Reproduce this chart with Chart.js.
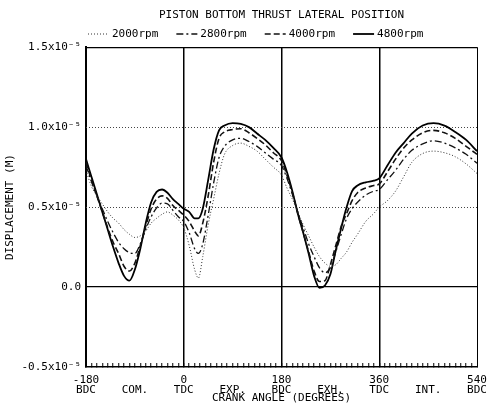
<!DOCTYPE html>
<html lang="en">
<head>
    <meta charset="UTF-8">
    <title>Piston bottom thrust lateral position</title>
    <script src="https://cdn.jsdelivr.net/npm/chart.js@4.4.1/dist/chart.umd.min.js"></script>
    <style>
        html, body { margin: 0; padding: 0; background: #fff }
        .wrap { position: relative; width: 487px; height: 412px }
    </style>
</head>
<body>
<div class="wrap">
    <canvas id="thrust-graph"></canvas>
</div>
<script>
    // crank angle (deg) and lateral displacement (x10^-5 m)
    const angles = [-180, -170, -160, -150, -140, -130, -120, -110, -100, -90, -80, -70, -60, -50, -40, -30, -20, -10,
        0, 10, 20, 27, 35, 45, 55, 65, 75, 90, 105, 120, 135, 150, 165,
        180, 190, 200, 210, 220, 230, 240, 250, 260, 270, 280, 290, 300, 310, 320, 335, 350,
        360, 375, 390, 405, 420, 440, 460, 480, 500, 520, 540];

    const rpm2000 = [0.73, 0.63, 0.57, 0.52, 0.47, 0.43, 0.40, 0.36, 0.33, 0.31, 0.32, 0.35, 0.40, 0.43, 0.455, 0.47, 0.45, 0.42,
        0.37, 0.26, 0.11, 0.056, 0.19, 0.39, 0.55, 0.71, 0.83, 0.885, 0.90, 0.88, 0.85, 0.80, 0.75,
        0.70, 0.62, 0.55, 0.47, 0.39, 0.32, 0.25, 0.19, 0.15, 0.13, 0.14, 0.18, 0.22, 0.28, 0.33, 0.41, 0.46,
        0.50, 0.54, 0.60, 0.69, 0.78, 0.835, 0.85, 0.84, 0.815, 0.77, 0.71];

    const rpm2800 = [0.76, 0.66, 0.57, 0.49, 0.41, 0.34, 0.28, 0.24, 0.215, 0.21, 0.27, 0.36, 0.44, 0.495, 0.525, 0.52, 0.48, 0.44,
        0.41, 0.34, 0.24, 0.21, 0.27, 0.45, 0.65, 0.81, 0.88, 0.92, 0.93, 0.91, 0.88, 0.84, 0.80,
        0.76, 0.68, 0.58, 0.47, 0.37, 0.27, 0.19, 0.12, 0.09, 0.12, 0.22, 0.33, 0.43, 0.49, 0.53, 0.575, 0.60,
        0.61, 0.67, 0.73, 0.80, 0.855, 0.895, 0.915, 0.90, 0.87, 0.83, 0.775];

    const rpm4000 = [0.78, 0.67, 0.57, 0.47, 0.37, 0.28, 0.21, 0.13, 0.10, 0.15, 0.26, 0.38, 0.49, 0.55, 0.57, 0.555, 0.51, 0.48,
        0.45, 0.41, 0.35, 0.32, 0.40, 0.57, 0.78, 0.93, 0.97, 0.985, 0.99, 0.965, 0.93, 0.89, 0.84,
        0.79, 0.70, 0.59, 0.46, 0.34, 0.22, 0.10, 0.035, 0.04, 0.14, 0.26, 0.38, 0.46, 0.54, 0.59, 0.62, 0.635,
        0.645, 0.72, 0.80, 0.87, 0.92, 0.965, 0.98, 0.965, 0.93, 0.88, 0.83];

    const rpm4800 = [0.80, 0.69, 0.58, 0.47, 0.36, 0.25, 0.15, 0.07, 0.04, 0.11, 0.24, 0.40, 0.53, 0.595, 0.61, 0.59, 0.55, 0.52,
        0.49, 0.47, 0.43, 0.43, 0.49, 0.67, 0.86, 0.98, 1.01, 1.025, 1.02, 1.00, 0.96, 0.92, 0.87,
        0.81, 0.72, 0.60, 0.46, 0.34, 0.21, 0.07, -0.005, 0.01, 0.08, 0.23, 0.37, 0.50, 0.60, 0.635, 0.655, 0.665,
        0.68, 0.76, 0.84, 0.90, 0.96, 1.01, 1.025, 1.01, 0.97, 0.92, 0.85];

    const deadCentreAngles = [-180, 0, 180, 360, 540];
    const deadCentreNames = ['BDC', 'TDC', 'BDC', 'TDC', 'BDC'];
    const strokeAngles = [-90, 90, 270, 450];
    const strokeNames = ['COM.', 'EXP.', 'EXH.', 'INT.'];

    const FONT = "'DejaVu Sans Mono', monospace";
    Chart.defaults.font.family = FONT;
    Chart.defaults.font.size = 11;
    Chart.defaults.color = '#000';

    const points = vals => angles.map((a, i) => ({x: a, y: vals[i]}));

    // dotted reference levels inside the frame
    const dottedLevels = {
        id: 'dottedLevels',
        beforeDatasetsDraw(chart) {
            const {ctx, chartArea: a, scales: {y}} = chart;
            ctx.save();
            ctx.strokeStyle = '#444';
            ctx.lineWidth = 1;
            ctx.setLineDash([1, 2]);
            y.ticks.forEach(t => {
                if (t.value <= y.min || t.value >= y.max || t.value === 0) return;
                const py = Math.round(y.getPixelForValue(t.value)) + 0.5;
                ctx.beginPath();
                ctx.moveTo(a.left, py);
                ctx.lineTo(a.right, py);
                ctx.stroke();
            });
            ctx.restore();
        }
    };

    // line-style key above the frame
    const lineKey = {
        id: 'lineKey',
        afterDraw(chart) {
            const {ctx, chartArea} = chart;
            let x = chartArea.left + 2;
            const y = 34;
            ctx.save();
            ctx.font = '11px ' + FONT;
            ctx.textBaseline = 'middle';
            chart.data.datasets.forEach(ds => {
                ctx.beginPath();
                ctx.setLineDash(ds.borderDash || []);
                ctx.lineWidth = ds.borderWidth;
                ctx.strokeStyle = ds.borderColor;
                ctx.moveTo(x, y);
                ctx.lineTo(x + 21, y);
                ctx.stroke();
                x += 24;
                ctx.setLineDash([]);
                ctx.fillStyle = '#000';
                ctx.fillText(ds.label, x, y);
                x += ctx.measureText(ds.label).width + 18;
            });
            ctx.restore();
        }
    };

    new Chart(document.getElementById('thrust-graph'), {
        type: 'line',
        data: {
            datasets: [{
                label: '2000rpm',
                data: points(rpm2000),
                borderColor: '#333',
                borderWidth: 1,
                borderDash: [1, 2]
            }, {
                label: '2800rpm',
                data: points(rpm2800),
                borderColor: '#111',
                borderWidth: 1.3,
                borderDash: [7, 3, 2, 3]
            }, {
                label: '4000rpm',
                data: points(rpm4000),
                borderColor: '#111',
                borderWidth: 1.6,
                borderDash: [6, 3]
            }, {
                label: '4800rpm',
                data: points(rpm4800),
                borderColor: '#000',
                borderWidth: 1.8
            }]
        },
        options: {
            responsive: true,
            maintainAspectRatio: false,
            animation: false,
            layout: {padding: {left: 4, right: 10, top: 0, bottom: 8}},
            elements: {
                point: {radius: 0},
                line: {cubicInterpolationMode: 'monotone', fill: false}
            },
            plugins: {
                legend: {display: false},
                tooltip: {enabled: false},
                title: {
                    display: true,
                    text: 'PISTON BOTTOM THRUST LATERAL POSITION',
                    fullSize: false,
                    font: {size: 11, weight: 'normal'},
                    padding: {top: 9, bottom: 25}
                }
            },
            scales: {
                x: {
                    type: 'linear',
                    min: -180,
                    max: 540,
                    afterFit: s => { s.height = 37; s.paddingLeft = 0; s.paddingRight = 0; },
                    ticks: {
                        stepSize: 10,
                        autoSkip: false,
                        maxRotation: 0,
                        padding: 12,
                        font: {size: 11, lineHeight: 0.9},
                        callback: v => {
                            const i = deadCentreAngles.indexOf(v);
                            if (i >= 0) return [String(v), deadCentreNames[i]];
                            const j = strokeAngles.indexOf(v);
                            if (j >= 0) return ['', strokeNames[j]];
                            return '';
                        }
                    },
                    grid: {
                        color: c => c.tick && c.tick.value % 180 === 0 ? '#000' : 'rgba(0,0,0,0)',
                        lineWidth: c => c.tick && c.tick.value === 540 ? 1 : 1.5,
                        tickColor: '#000',
                        tickLength: -4,
                        tickWidth: 1
                    },
                    border: {display: true, color: '#000', width: 1.5},
                    title: {
                        display: true,
                        text: 'CRANK ANGLE (DEGREES)',
                        padding: 0,
                        font: {size: 11, lineHeight: 1.0}
                    }
                },
                y: {
                    min: -0.5,
                    max: 1.5,
                    afterFit: s => { s.width = 82; },
                    ticks: {
                        stepSize: 0.5,
                        padding: 5,
                        callback: v => v === 0 ? '0.0' : v.toFixed(1) + 'x10\u207B\u2075'
                    },
                    grid: {
                        drawTicks: false,
                        color: c => c.tick && (c.tick.value === 0 || c.tick.value === 1.5) ? '#000' : 'rgba(0,0,0,0)',
                        lineWidth: 1.2
                    },
                    border: {display: true, color: '#000', width: 2},
                    title: {
                        display: true,
                        text: 'DISPLACEMENT (M)',
                        padding: 0,
                        font: {size: 11, lineHeight: 1.2}
                    }
                }
            }
        },
        plugins: [dottedLevels, lineKey]
    });
</script>
</body>
</html>
